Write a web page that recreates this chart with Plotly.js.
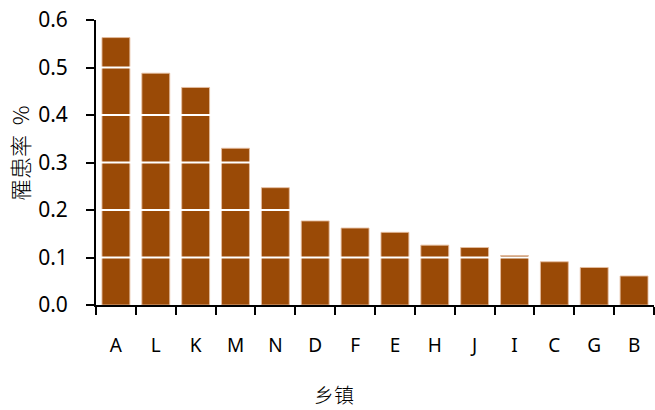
<!DOCTYPE html>
<html>
<head>
<meta charset="utf-8">
<script src="https://cdn.plot.ly/plotly-3.0.1.min.js"></script>
<style>html,body{margin:0;padding:0;background:#fff;}#chart{width:655px;height:410px;}</style>
</head>
<body>
<div id="chart"></div>
<script>
var categories = ["A","L","K","M","N","D","F","E","H","J","I","C","G","B"];
var rates = [0.563, 0.488, 0.458, 0.330, 0.247, 0.177, 0.162, 0.153, 0.126, 0.121, 0.104, 0.091, 0.079, 0.061];
var yTicks = [0.0, 0.1, 0.2, 0.3, 0.4, 0.5, 0.6];
var yTickLabels = ["0.0","0.1","0.2","0.3","0.4","0.5","0.6"];

var font = "Noto Sans, Open Sans, Liberation Sans, sans-serif";
var cjk = "Noto Sans CJK SC, Noto Sans, sans-serif";

var trace = {
  type: "bar",
  x: categories,
  y: rates,
  marker: {color: "#9A4A06", line: {color: "rgba(230,190,160,0.9)", width: 1}},
  width: 0.7,
  hoverinfo: "x+y"
};

var gridShapes = yTicks.filter(function(v){return v > 0 && v < 0.6;}).map(function(v){
  return {type: "line", xref: "paper", yref: "y", x0: 0, x1: 1, y0: v, y1: v,
          line: {color: "#ffffff", width: 2}, layer: "above"};
});

var layout = {
  width: 655, height: 410,
  margin: {l: 96, r: 1, t: 20, b: 105, pad: 0},
  paper_bgcolor: "#fff", plot_bgcolor: "#fff",
  showlegend: false,
  bargap: 0.3,
  xaxis: {
    type: "category",
    tickson: "boundaries",
    ticks: "outside", ticklen: 8, tickwidth: 2, tickcolor: "#000",
    showline: true, linecolor: "#000", linewidth: 2,
    showgrid: false, zeroline: false,
    tickfont: {family: font, size: 19, color: "#000"},
    ticklabelstandoff: 22,
    fixedrange: true
  },
  yaxis: {
    range: [0, 0.6],
    tickvals: yTicks, ticktext: yTickLabels,
    ticks: "outside", ticklen: 8, tickwidth: 2, tickcolor: "#000",
    showline: true, linecolor: "#000", linewidth: 2,
    showgrid: false, zeroline: false,
    tickfont: {family: font, size: 21, color: "#000"},
    ticklabelstandoff: 14,
    fixedrange: true
  },
  shapes: gridShapes,
  annotations: [
    {text: "罹患率\u00a0\u00a0%", xref: "paper", yref: "paper", xanchor: "center", yanchor: "middle",
     textangle: -90, showarrow: false, font: {family: cjk, size: 22, color: "#000", weight: 300}},
    {text: "乡镇", xref: "paper", yref: "paper", xanchor: "center", yanchor: "middle",
     showarrow: false, font: {family: cjk, size: 20, color: "#000", weight: 300}}
  ]
};
layout.annotations[1].x = (334 - 96) / 558;
layout.annotations[1].y = (305 - 394) / 285;
layout.annotations[0].x = (19 - 96) / 558;
layout.annotations[0].y = (305 - 154) / 285;

Plotly.newPlot("chart", [trace], layout, {displayModeBar: false, staticPlot: true});
</script>
</body>
</html>
